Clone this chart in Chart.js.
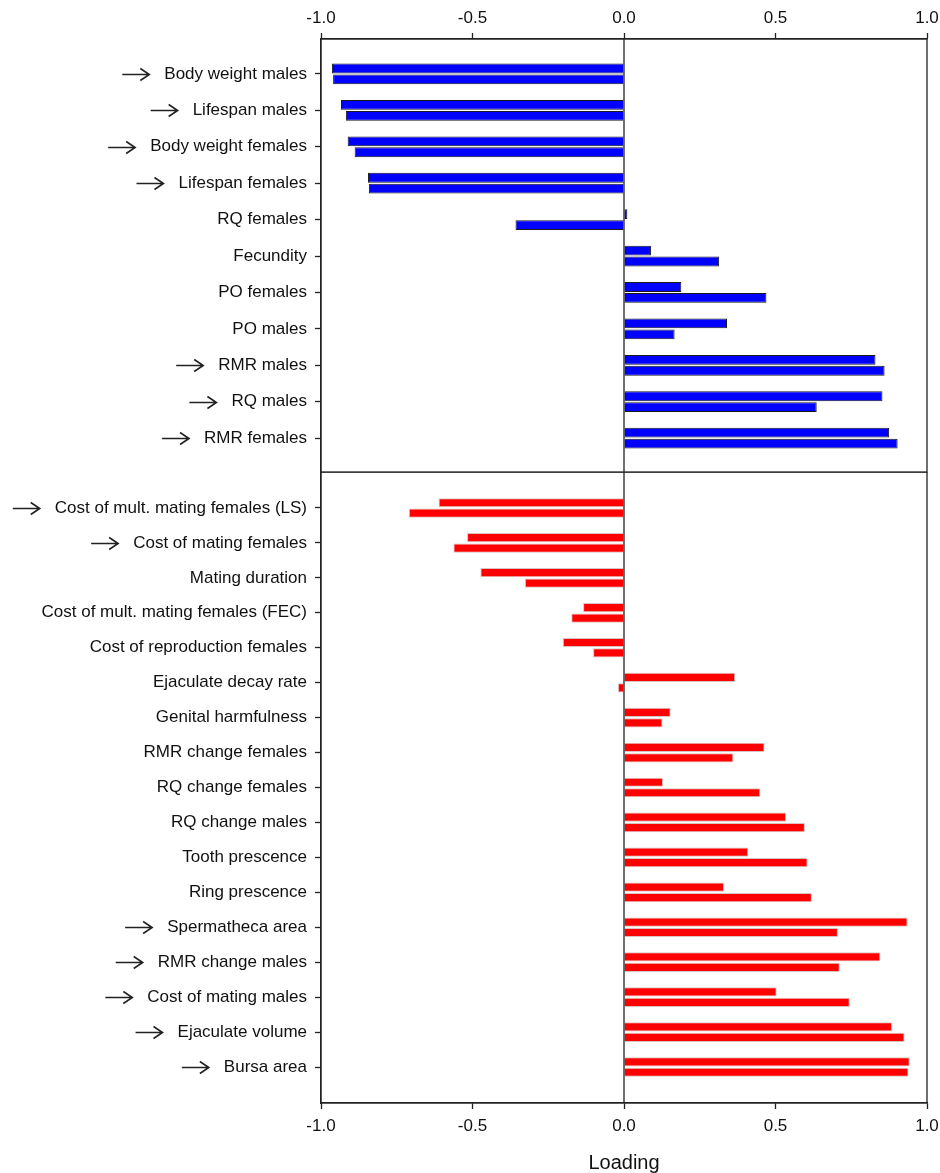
<!DOCTYPE html>
<html>
<head>
<meta charset="utf-8">
<script src="https://cdn.jsdelivr.net/npm/chart.js@4.4.0/dist/chart.umd.min.js"></script>
<style>
body{margin:0;background:#fff;}
#wrap{position:relative;width:940px;height:1173px;}
#topChart{position:absolute;left:0;top:0;}
#bottomChart{position:absolute;left:0;top:472px;}
</style>
</head>
<body>
<div id="wrap">
<canvas id="bottomChart" width="940" height="701"></canvas>
<canvas id="topChart" width="940" height="474"></canvas>
</div>
<script>
/* ---------------- Data ---------------- */
const topLabels = ['Body weight males','Lifespan males','Body weight females','Lifespan females','RQ females',
    'Fecundity','PO females','PO males','RMR males','RQ males','RMR females'];
const topFirst  = [-0.964,-0.934,-0.912,-0.845, 0.011, 0.089, 0.189, 0.340, 0.830, 0.853, 0.875];
const topSecond = [-0.960,-0.918,-0.889,-0.842,-0.358, 0.314, 0.470, 0.167, 0.860, 0.636, 0.903];
const topArrows = ['Body weight males','Lifespan males','Body weight females','Lifespan females',
    'RMR males','RQ males','RMR females'];

const bottomLabels = ['Cost of mult. mating females (LS)','Cost of mating females','Mating duration',
    'Cost of mult. mating females (FEC)','Cost of reproduction females','Ejaculate decay rate',
    'Genital harmfulness','RMR change females','RQ change females','RQ change males','Tooth prescence',
    'Ring prescence','Spermatheca area','RMR change males','Cost of mating males','Ejaculate volume','Bursa area'];
const bottomFirst  = [-0.612,-0.518,-0.474,-0.135,-0.202, 0.367, 0.154, 0.464, 0.129, 0.535, 0.410, 0.330, 0.936, 0.846, 0.504, 0.885, 0.943];
const bottomSecond = [-0.710,-0.563,-0.327,-0.174,-0.102,-0.020, 0.127, 0.361, 0.450, 0.597, 0.606, 0.620, 0.706, 0.712, 0.745, 0.926, 0.939];
const bottomArrows = ['Cost of mult. mating females (LS)','Cost of mating females','Spermatheca area',
    'RMR change males','Cost of mating males','Ejaculate volume','Bursa area'];

const xTicks = [-1, -0.5, 0, 0.5, 1];
const xTitle = 'Loading';

/* ---------------- Helpers ---------------- */
const FONT = '"Liberation Sans", Arial, Helvetica, sans-serif';
const INK = '#222';
Chart.defaults.font.family = FONT;
Chart.defaults.color = '#111';

const decorations = (labels, arrows) => ({
    id: 'decorations',
    afterDatasetsDraw(chart) {
        const {ctx, chartArea: a, scales: {x, y}} = chart;
        ctx.save();
        ctx.strokeStyle = INK;
        ctx.lineWidth = 1.3;
        const zx = x.getPixelForValue(0);
        ctx.beginPath(); ctx.moveTo(zx, a.top); ctx.lineTo(zx, a.bottom); ctx.stroke();
        ctx.strokeRect(a.left, a.top, a.right - a.left, a.bottom - a.top);
        // arrows in front of the flagged labels
        ctx.font = '17px ' + FONT;
        ctx.lineWidth = 1.6;
        const textRight = a.left - 6 - 8;
        labels.forEach((lab, i) => {
            if(!arrows.includes(lab)) return;
            const py = Math.round(y.getPixelForValue(i)) + 0.5;
            const end = textRight - ctx.measureText(lab).width - 15;
            ctx.beginPath();
            ctx.moveTo(end - 27, py); ctx.lineTo(end, py);
            ctx.moveTo(end - 9, py - 6); ctx.lineTo(end, py); ctx.lineTo(end - 9, py + 6);
            ctx.stroke();
        });
        ctx.restore();
    }
});

function makeChart(id, labels, first, second, arrows, cfg) {
    const ds = (vals) => ({
        data: vals.map((v, i) => ({x: v, y: i})),
        backgroundColor: cfg.color,
        borderColor: cfg.border,
        borderWidth: cfg.borderWidth,
        categoryPercentage: 0.6,
        barPercentage: cfg.barPct
    });
    return new Chart(document.getElementById(id), {
        type: 'bar',
        data: { datasets: [ds(first), ds(second)] },
        plugins: [decorations(labels, arrows)],
        options: {
            indexAxis: 'y',
            responsive: false,
            animation: false,
            layout: { padding: { left: 0, right: 13, top: 0, bottom: cfg.padBottom } },
            plugins: { legend: { display: false }, tooltip: { enabled: false } },
            scales: {
                x: {
                    type: 'linear', position: cfg.top ? 'top' : 'bottom', min: -1, max: 1,
                    afterBuildTicks: s => { s.ticks = xTicks.map(v => ({value: v})); },
                    afterFit: s => { s.height = cfg.axisHeight; s.paddingLeft = 0; s.paddingRight = 0; },
                    ticks: { font: { size: 17 }, padding: cfg.top ? 4 : 7, color: '#111',
                        callback: v => v.toFixed(1) },
                    grid: { drawOnChartArea: false, drawTicks: true, tickLength: 6, tickColor: INK, tickWidth: 1.3 },
                    border: { display: true, color: INK, width: 1.3 },
                    title: { display: !cfg.top, text: xTitle, color: '#111',
                        font: { size: 20, lineHeight: 1 }, padding: 0 }
                },
                y: {
                    type: 'linear', reverse: true, min: cfg.yMin, max: cfg.yMax, offset: false,
                    afterBuildTicks: s => { s.ticks = labels.map((_, i) => ({value: i})); },
                    afterFit: s => { s.width = 321; s.paddingTop = 0; s.paddingBottom = 0; },
                    ticks: { autoSkip: false, font: { size: 17 }, padding: 8, color: '#111',
                        callback: v => labels[v] },
                    grid: { offset: false, drawOnChartArea: false, drawTicks: true, tickLength: 6,
                        tickColor: INK, tickWidth: 1.3 },
                    border: { display: true, color: INK, width: 1.3 }
                }
            }
        }
    });
}

/* ---------------- Charts ---------------- */
makeChart('topChart', topLabels, topFirst, topSecond, topArrows, {
    top: true, color: '#0000ff', border: '#1a1a1a', borderWidth: 1, barPct: 0.9,
    yMin: -0.96, yMax: 10.93, axisHeight: 39, padBottom: 2
});
makeChart('bottomChart', bottomLabels, bottomFirst, bottomSecond, bottomArrows, {
    top: false, color: '#ff0000', border: '#d9c4c4', borderWidth: 1, barPct: 0.88,
    yMin: -1.03, yMax: 17.03, axisHeight: 70, padBottom: 0
});
</script>
</body>
</html>
